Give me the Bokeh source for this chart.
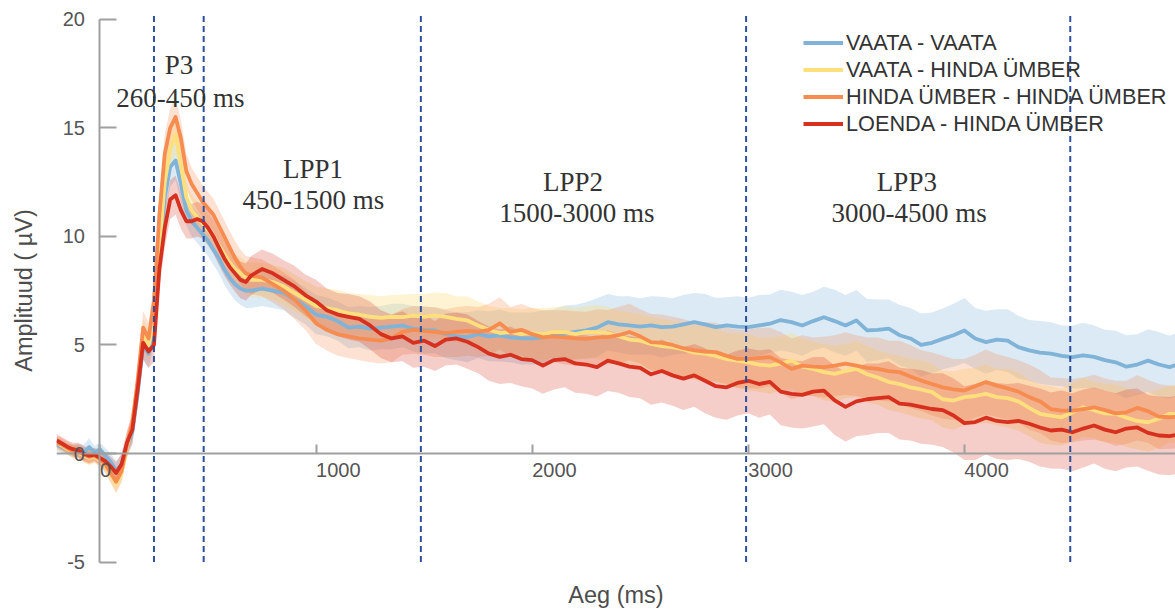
from bokeh.plotting import figure
from bokeh.models import Range1d, FixedTicker, Legend, LegendItem, LinearAxis
from bokeh.core.properties import value
from bokeh.embed import file_html
from bokeh.resources import INLINE

# ---------------- data ----------------
time_early = [-200, -175, -150, -125, -100, -75, -50, -25, 0, 25, 50, 75, 100,
              125, 150, 175, 200, 225, 250, 275, 300, 325, 350, 375, 400, 425,
              450, 475, 500, 525, 550, 575, 600, 625, 650, 675, 700]
time_late = [750, 800, 850, 900, 950, 1000, 1050, 1100, 1150, 1200,
             1250, 1300, 1350, 1400, 1450, 1500, 1550, 1600, 1650, 1700,
             1750, 1800, 1850, 1900, 1950, 2000, 2050, 2100, 2150, 2200,
             2250, 2300, 2350, 2400, 2450, 2500, 2550, 2600, 2650, 2700,
             2750, 2800, 2850, 2900, 2950, 3000, 3050, 3100, 3150, 3200,
             3250, 3300, 3350, 3400, 3450, 3500, 3550, 3600, 3650, 3700,
             3750, 3800, 3850, 3900, 3950, 4000, 4050, 4100, 4150, 4200,
             4250, 4300, 4350, 4400, 4450, 4500, 4550, 4600, 4650, 4700,
             4750, 4800, 4850, 4900, 4950, 5000]

blue_early = [0.4, 0.3, 0.2, 0.1, 0.15, 0.05, 0.3, 0.05, 0.2, -0.1, -0.4, -0.8, -0.5,
              0.3, 1.0, 2.8, 5.0, 4.6, 5.8, 8.8, 11.8, 13.2, 13.5, 12.4, 11.2, 10.7,
              10.4, 10.1, 9.8, 9.4, 9.0, 8.5, 8.1, 7.8, 7.6, 7.5, 7.5]
blue_late = [7.6, 7.5, 7.4, 7.1, 6.8, 6.4, 6.3, 6.1, 5.8, 5.85,
             5.75, 5.8, 5.85, 5.9, 5.75, 5.7, 5.67, 5.5, 5.4, 5.36,
             5.5, 5.4, 5.44, 5.35, 5.3, 5.3, 5.35, 5.45, 5.52, 5.6,
             5.67, 5.8, 6.05, 5.95, 5.9, 5.85, 5.9, 5.82, 5.85, 5.95,
             6.05, 5.95, 5.82, 5.9, 5.85, 5.82, 5.9, 5.98, 6.15, 6.05,
             5.9, 6.1, 6.28, 6.1, 5.9, 6.13, 5.67, 5.7, 5.75, 5.45,
             5.3, 5.0, 5.1, 5.28, 5.45, 5.67, 5.3, 5.13, 5.25, 5.2,
             4.9, 4.75, 4.65, 4.6, 4.5, 4.44, 4.52, 4.45, 4.3, 4.2,
             4.0, 4.1, 4.28, 4.1, 3.98, 4.15]

yellow_early = [0.5, 0.35, 0.2, 0.1, 0.05, -0.1, -0.2, -0.15, -0.3, -0.55, -0.95, -1.4, -0.9,
                0.3, 1.3, 3.2, 5.5, 5.0, 6.0, 9.5, 12.5, 14.0, 14.7, 13.3, 11.8, 11.2,
                10.9, 10.6, 10.3, 10.0, 9.6, 9.2, 8.8, 8.5, 8.3, 8.1, 8.0]
yellow_late = [8.0, 7.9, 7.7, 7.4, 7.1, 6.8, 6.7, 6.6, 6.45, 6.4,
               6.3, 6.25, 6.3, 6.28, 6.35, 6.3, 6.36, 6.3, 6.2, 6.13,
               5.9, 5.7, 5.55, 5.6, 5.5, 5.55, 5.5, 5.6, 5.59, 5.5,
               5.6, 5.59, 5.55, 5.4, 5.25, 5.2, 5.05, 4.95, 4.9, 4.8,
               4.65, 4.6, 4.5, 4.35, 4.28, 4.2, 4.1, 4.05, 4.14, 4.28,
               4.0, 3.9, 3.75, 3.67, 3.8, 3.9, 3.65, 3.5, 3.3, 3.2,
               3.05, 2.95, 2.83, 2.5, 2.44, 2.6, 2.65, 2.75, 2.6, 2.55,
               2.4, 2.1, 1.83, 1.75, 1.67, 1.9, 2.13, 2.0, 1.85, 1.83,
               1.65, 1.5, 1.44, 1.6, 1.83, 1.8]

orange_early = [0.5, 0.4, 0.25, 0.1, 0.1, -0.05, -0.15, -0.1, -0.25, -0.5, -0.9, -1.3, -0.8,
                0.4, 1.4, 3.4, 5.8, 5.3, 7.0, 11.0, 13.8, 15.0, 15.5, 14.5, 13.0, 12.4,
                12.0, 11.6, 11.3, 11.0, 10.5, 10.0, 9.5, 9.0, 8.6, 8.3, 8.2]
orange_late = [8.1, 7.8, 7.5, 7.1, 6.6, 6.0, 5.7, 5.5, 5.4, 5.3,
               5.25, 5.2, 5.3, 5.6, 5.7, 5.65, 5.6, 5.55, 5.6, 5.65,
               5.6, 5.7, 6.0, 5.6, 5.7, 5.5, 5.35, 5.4, 5.35, 5.3,
               5.28, 5.35, 5.36, 5.45, 5.6, 5.4, 5.13, 5.1, 5.0, 4.85,
               4.75, 4.7, 4.67, 4.5, 4.36, 4.36, 4.4, 4.44, 4.2, 3.9,
               4.05, 4.0, 3.98, 4.05, 4.14, 4.05, 3.95, 3.9, 3.8, 3.75,
               3.55, 3.36, 3.2, 3.05, 2.95, 2.9, 3.1, 3.29, 3.13, 3.0,
               2.85, 2.6, 2.4, 2.05, 1.98, 1.98, 2.05, 2.13, 2.0, 1.85,
               1.9, 2.1, 1.95, 1.7, 1.67, 1.7]

red_early = [0.6, 0.45, 0.3, 0.2, 0.15, 0.0, -0.1, -0.05, -0.2, -0.35, -0.6, -0.9, -0.5,
             0.5, 1.1, 3.0, 5.1, 4.7, 5.0, 8.5, 10.4, 11.7, 11.9, 11.2, 10.7, 10.7,
             10.8, 10.7, 10.4, 10.0, 9.5, 9.0, 8.6, 8.3, 8.0, 7.9, 8.2]
red_late = [8.5, 8.3, 8.0, 7.7, 7.3, 7.0, 6.6, 6.4, 6.3, 6.2,
            5.9, 5.5, 5.3, 5.4, 5.1, 5.2, 4.95, 5.25, 5.3, 5.15,
            4.9, 4.6, 4.45, 4.55, 4.35, 4.3, 4.05, 4.3, 4.35, 4.15,
            4.1, 3.98, 4.28, 4.15, 4.0, 3.95, 3.65, 3.8, 3.6, 3.45,
            3.6, 3.35, 3.1, 3.05, 3.25, 3.35, 3.2, 3.3, 2.85, 2.75,
            2.7, 2.85, 2.9, 2.45, 2.15, 2.4, 2.5, 2.55, 2.6, 2.3,
            2.25, 2.15, 2.05, 2.0, 1.75, 1.4, 1.45, 1.65, 1.5, 1.45,
            1.5, 1.37, 1.2, 1.06, 1.1, 0.98, 1.15, 1.29, 1.1, 0.98,
            1.15, 1.2, 0.95, 0.83, 0.8, 0.9]

# half-width of the shaded error bands
blue_sem_early = [0.3, 0.3, 0.25, 0.3, 0.3, 0.35, 0.4, 0.3, 0.3, 0.35, 0.4, 0.45, 0.45,
                  0.5, 0.6, 0.7, 0.7, 0.7, 0.8, 0.8, 0.9, 0.9, 0.9, 0.8, 0.7, 0.7,
                  0.7, 0.7, 0.7, 0.7, 0.7, 0.7, 0.7, 0.75, 0.75, 0.8, 0.8]
blue_sem_late = [0.8, 0.8, 0.8, 0.85, 0.85, 0.9, 0.9, 0.9, 0.95, 0.95,
                 1.0, 1.0, 1.05, 1.0, 1.05, 1.1, 1.05, 1.1, 1.1, 1.15,
                 1.1, 1.15, 1.2, 1.15, 1.2, 1.2, 1.25, 1.2, 1.3, 1.25,
                 1.3, 1.35, 1.3, 1.3, 1.35, 1.3, 1.35, 1.4, 1.3, 1.35,
                 1.35, 1.4, 1.35, 1.3, 1.4, 1.35, 1.4, 1.35, 1.4, 1.4,
                 1.4, 1.35, 1.4, 1.45, 1.4, 1.4, 1.45, 1.4, 1.35, 1.4,
                 1.4, 1.45, 1.4, 1.4, 1.45, 1.5, 1.4, 1.45, 1.4, 1.45,
                 1.45, 1.4, 1.45, 1.45, 1.4, 1.45, 1.5, 1.45, 1.4, 1.45,
                 1.45, 1.4, 1.45, 1.5, 1.45, 1.45]
yellow_sem_early = [0.3, 0.25, 0.25, 0.3, 0.3, 0.3, 0.35, 0.3, 0.3, 0.35, 0.4, 0.45, 0.45,
                    0.5, 0.6, 0.7, 0.7, 0.7, 0.8, 0.8, 0.9, 0.9, 0.9, 0.8, 0.7, 0.7,
                    0.7, 0.7, 0.7, 0.7, 0.7, 0.7, 0.7, 0.7, 0.75, 0.75, 0.8]
yellow_sem_late = [0.8, 0.8, 0.85, 0.85, 0.85, 0.9, 0.9, 0.95, 0.95, 0.95,
                   1.0, 1.0, 1.0, 1.05, 1.0, 1.05, 1.05, 1.1, 1.05, 1.1,
                   1.1, 1.1, 1.15, 1.1, 1.15, 1.15, 1.2, 1.15, 1.2, 1.2,
                   1.2, 1.25, 1.2, 1.2, 1.25, 1.2, 1.25, 1.25, 1.2, 1.25,
                   1.25, 1.3, 1.25, 1.2, 1.25, 1.3, 1.25, 1.3, 1.25, 1.3,
                   1.3, 1.25, 1.3, 1.3, 1.25, 1.3, 1.3, 1.25, 1.3, 1.3,
                   1.3, 1.35, 1.3, 1.3, 1.35, 1.3, 1.3, 1.35, 1.3, 1.35,
                   1.35, 1.3, 1.35, 1.35, 1.3, 1.35, 1.35, 1.3, 1.35, 1.35,
                   1.35, 1.3, 1.35, 1.35, 1.3, 1.35]
orange_sem_early = [0.3, 0.3, 0.3, 0.3, 0.3, 0.35, 0.35, 0.3, 0.35, 0.4, 0.45, 0.5, 0.5,
                    0.55, 0.65, 0.7, 0.75, 0.75, 0.8, 0.85, 0.9, 0.9, 0.9, 0.85, 0.8, 0.75,
                    0.75, 0.75, 0.75, 0.75, 0.75, 0.75, 0.75, 0.8, 0.8, 0.8, 0.85]
orange_sem_late = [0.85, 0.85, 0.85, 0.9, 0.9, 0.95, 0.95, 1.0, 1.0, 1.0,
                   1.05, 1.05, 1.1, 1.05, 1.1, 1.1, 1.15, 1.1, 1.15, 1.15,
                   1.15, 1.2, 1.2, 1.15, 1.2, 1.2, 1.25, 1.2, 1.25, 1.25,
                   1.25, 1.3, 1.25, 1.3, 1.3, 1.25, 1.3, 1.3, 1.3, 1.35,
                   1.3, 1.35, 1.35, 1.3, 1.35, 1.35, 1.4, 1.35, 1.4, 1.4,
                   1.4, 1.35, 1.4, 1.4, 1.45, 1.4, 1.4, 1.45, 1.4, 1.45,
                   1.45, 1.4, 1.45, 1.45, 1.4, 1.45, 1.45, 1.5, 1.45, 1.45,
                   1.45, 1.5, 1.45, 1.45, 1.5, 1.45, 1.45, 1.5, 1.45, 1.5,
                   1.45, 1.5, 1.45, 1.5, 1.45, 1.45]
red_sem_early = [0.3, 0.3, 0.3, 0.3, 0.35, 0.35, 0.35, 0.3, 0.35, 0.4, 0.45, 0.5, 0.5,
                 0.55, 0.65, 0.7, 0.75, 0.75, 0.8, 0.85, 0.9, 0.9, 0.9, 0.85, 0.8, 0.8,
                 0.8, 0.8, 0.8, 0.8, 0.8, 0.8, 0.8, 0.85, 0.85, 0.85, 0.9]
red_sem_late = [0.9, 0.9, 0.9, 0.95, 0.95, 1.0, 1.0, 1.0, 1.05, 1.05,
                1.1, 1.1, 1.1, 1.15, 1.15, 1.2, 1.15, 1.2, 1.2, 1.25,
                1.2, 1.25, 1.25, 1.3, 1.25, 1.3, 1.3, 1.35, 1.3, 1.35,
                1.35, 1.35, 1.4, 1.35, 1.4, 1.4, 1.4, 1.45, 1.4, 1.45,
                1.45, 1.5, 1.45, 1.5, 1.5, 1.5, 1.55, 1.5, 1.55, 1.55,
                1.55, 1.6, 1.55, 1.6, 1.6, 1.6, 1.65, 1.6, 1.65, 1.65,
                1.65, 1.7, 1.65, 1.7, 1.7, 1.7, 1.75, 1.7, 1.75, 1.75,
                1.75, 1.75, 1.8, 1.75, 1.8, 1.8, 1.8, 1.75, 1.8, 1.8,
                1.8, 1.8, 1.75, 1.8, 1.8, 1.8]

series_names = ["VAATA - VAATA", "VAATA - HINDA ÜMBER",
                "HINDA ÜMBER - HINDA ÜMBER", "LOENDA - HINDA ÜMBER"]

window_bounds = [250, 480, 1485, 2990, 4490]
window_names = ["P3", "LPP1", "LPP2", "LPP3"]
window_ranges = ["260-450 ms", "450-1500 ms", "1500-3000 ms", "3000-4500 ms"]

x_ticks = [0, 1000, 2000, 3000, 4000]
x_tick_labels = ["0", "1000", "2000", "3000", "4000"]
y_ticks = [-5, 0, 5, 10, 15, 20]
y_tick_labels = ["-5", "0", "5", "10", "15", "20"]

# ---------------- layout / style ----------------
name_pos_x = [366, 986, 2189, 3734]
name_pos_y = [17.88, 13.13, 12.49, 12.49]
range_pos_x = [372, 988, 2207, 3744]
range_pos_y = [16.36, 11.66, 11.06, 11.06]

colors = ["#7fb3d7", "#fddf7d", "#f78c50", "#d7301f"]
band_alpha = [0.28, 0.34, 0.26, 0.24]

time_ms = time_early + time_late
means = [blue_early + blue_late, yellow_early + yellow_late,
         orange_early + orange_late, red_early + red_late]
sems = [blue_sem_early + blue_sem_late, yellow_sem_early + yellow_sem_late,
        orange_sem_early + orange_sem_late, red_sem_early + red_sem_late]

SANS = "Liberation Sans"
SERIF = "Liberation Serif"

p = figure(width=1175, height=610,
           x_range=Range1d(-201, 4977), y_range=Range1d(-5.39, 20.41),
           output_backend="svg", toolbar_location=None,
           min_border_left=56, min_border_right=0,
           min_border_top=10, min_border_bottom=40)
p.outline_line_color = None
p.grid.visible = False

# bands
for m, s, c, a in zip(means, sems, colors, band_alpha):
    lo = [v - e for v, e in zip(m, s)]
    hi = [v + e for v, e in zip(m, s)]
    p.varea(x=time_ms, y1=lo, y2=hi, fill_color=c, fill_alpha=a)

# lines
line_renderers = []
for m, c in zip(means, colors):
    r = p.line(x=time_ms, y=m, line_color=c, line_width=3.8, line_join="round")
    line_renderers.append(r)

# window boundaries
p.segment(x0=window_bounds, y0=[-5] * len(window_bounds),
          x1=window_bounds, y1=[20.2] * len(window_bounds),
          line_color="#2d4f9e", line_width=2, line_dash="6 4")

# window annotations
p.text(x=name_pos_x, y=name_pos_y, text=window_names,
       text_font=value(SERIF), text_font_size="27px", text_color="#333333",
       text_align="center", text_baseline="middle")
p.text(x=range_pos_x, y=range_pos_y, text=window_ranges,
       text_font=value(SERIF), text_font_size="27px", text_color="#333333",
       text_align="center", text_baseline="middle")

# axes through the origin
axis_col = "#a0a0a0"
p.xaxis.fixed_location = 0
p.xaxis.ticker = FixedTicker(ticks=x_ticks)
p.xaxis.major_label_overrides = {t: "" for t in x_ticks}
p.xaxis.minor_tick_line_color = None
p.xaxis.major_tick_in = 9
p.xaxis.major_tick_out = 0
p.xaxis.axis_line_color = axis_col
p.xaxis.axis_line_width = 2
p.xaxis.major_tick_line_color = axis_col
p.xaxis.major_tick_line_width = 2

p.yaxis.fixed_location = 0
p.yaxis.ticker = FixedTicker(ticks=y_ticks)
p.yaxis.bounds = (-5, 20)
p.yaxis.major_label_overrides = {t: l for t, l in zip(y_ticks, y_tick_labels)}
p.yaxis.minor_tick_line_color = None
p.yaxis.major_tick_in = 17
p.yaxis.major_tick_out = 0
p.yaxis.major_label_standoff = 15
p.yaxis.axis_line_color = axis_col
p.yaxis.axis_line_width = 2
p.yaxis.major_tick_line_color = axis_col
p.yaxis.major_tick_line_width = 2
p.yaxis.major_label_text_font = SANS
p.yaxis.major_label_text_font_size = "20px"
p.yaxis.major_label_text_color = "#555555"

# x tick labels, left-aligned at their ticks as in the reference
p.text(x=x_ticks, y=[0] * len(x_ticks), text=x_tick_labels,
       text_font=value(SANS), text_font_size="20px", text_color="#555555",
       text_align="left", text_baseline="top", y_offset=9)


# axis titles on label-only axes at the outer edges
def title_axis(label, standoff):
    return LinearAxis(ticker=FixedTicker(ticks=[]), axis_label=label,
                      axis_line_color=None, major_tick_line_color=None,
                      minor_tick_line_color=None, major_tick_in=0,
                      major_tick_out=0, minor_tick_in=0, minor_tick_out=0,
                      major_label_standoff=0, axis_label_standoff=standoff,
                      axis_label_text_font=SANS,
                      axis_label_text_font_size="23.5px",
                      axis_label_text_font_style="normal",
                      axis_label_text_color="#4d4d4d")


p.add_layout(title_axis("Aeg (ms)", 11), "below")
p.add_layout(title_axis("Amplituud ( µV)", 20), "left")

# legend
legend = Legend(items=[LegendItem(label=n, renderers=[r])
                       for n, r in zip(series_names, line_renderers)],
                location=(747, 433), glyph_width=40, glyph_height=27,
                label_height=27, label_standoff=3, spacing=0, padding=0,
                margin=0, border_line_color=None, background_fill_alpha=0,
                label_text_font=SANS, label_text_font_size="21.7px",
                label_text_color="#333333")
p.add_layout(legend)

open("out.html", "w").write(file_html(p, INLINE))
